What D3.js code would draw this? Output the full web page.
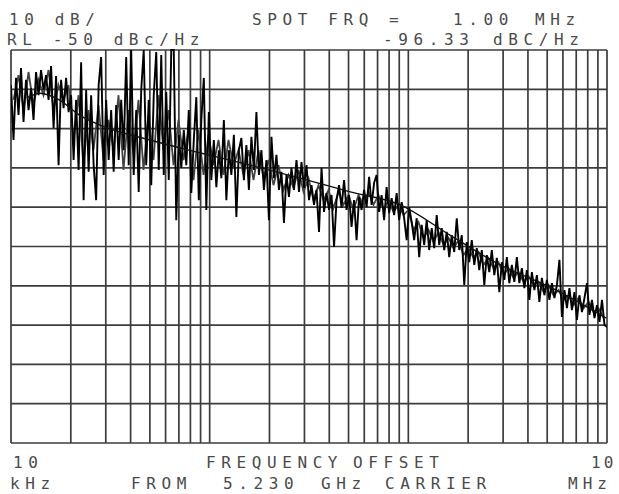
<!DOCTYPE html>
<html>
<head>
<meta charset="utf-8">
<script src="https://cdn.jsdelivr.net/npm/d3@7"></script>
<style>
  body { margin: 0; background: #fff; }
  svg { display: block; }
  .lbl { font-family: "DejaVu Sans Mono", monospace; font-size: 16px; fill: #4a4a4a; letter-spacing: 5.6px; }
</style>
</head>
<body>
<div id="chart"></div>
<script>
// phase noise trace, dBc/Hz, swept log from 10 kHz to 10 MHz
var traceDb = [
  -58.9, -72.9, -57.1, -66.5, -54.6, -68.3, -57.6, -65.3, -59.7, -67.8,
  -55.6, -61.5, -55.1, -60.2, -56.4, -62.7, -54.1, -69.9, -56.6, -79.3,
  -57.6, -64.8, -57.1, -65.8, -61.5, -78.0, -62.7, -80.5, -53.1, -88.2,
  -60.2, -81.0, -61.5, -79.3, -88.2, -58.9, -51.8, -81.8, -62.7, -78.0,
  -65.3, -81.0, -64.0, -78.0, -62.7, -75.5, -51.8, -79.3, -50.0, -81.8,
  -65.3, -86.1, -60.2, -50.0, -79.3, -62.7, -84.4, -61.5, -50.5, -80.5,
  -51.3, -81.8, -60.7, -83.1, -50.0, -50.0, -93.3, -71.6, -80.0, -70.4,
  -79.3, -65.3, -86.4, -72.9, -62.0, -88.2, -67.8, -57.1, -90.7, -65.8,
  -83.1, -72.9, -84.9, -75.5, -82.6, -67.8, -88.2, -75.5, -81.8, -71.6,
  -92.5, -75.5, -72.4, -83.1, -74.2, -85.6, -72.1, -80.5, -65.8, -81.8,
  -75.5, -85.6, -78.0, -93.3, -72.1, -82.6, -76.7, -85.6, -81.0, -94.0,
  -81.8, -87.4, -80.0, -85.6, -78.0, -86.1, -78.5, -85.1, -79.3, -88.2,
  -84.4, -89.4, -85.6, -96.3, -80.0, -91.2, -86.4, -90.7, -86.9, -100.1,
  -88.2, -84.4, -90.2, -83.1, -90.7, -86.9, -95.0, -88.2, -98.4, -87.4,
  -90.7, -85.6, -90.0, -82.3, -89.4, -83.8, -81.8, -91.2, -86.9, -93.3,
  -84.9, -91.5, -87.7, -92.0, -86.4, -93.3, -88.7, -92.8, -98.4, -90.0,
  -93.8, -98.4, -92.8, -102.7, -94.5, -99.6, -93.3, -100.9, -95.3, -100.4,
  -92.0, -99.6, -95.3, -100.9, -96.3, -102.7, -97.1, -101.4, -92.8, -100.9,
  -97.1, -109.8, -98.9, -104.0, -98.4, -104.7, -100.4, -106.0, -100.9, -109.8,
  -102.2, -106.5, -100.9, -107.3, -102.9, -111.6, -104.0, -108.5, -102.7, -109.3,
  -104.7, -109.0, -102.7, -109.3, -105.5, -110.6, -106.0, -113.6, -106.5, -111.1,
  -107.3, -114.1, -108.0, -112.4, -108.5, -113.6, -109.3, -113.1, -109.8, -103.4,
  -117.9, -111.1, -115.7, -110.6, -116.2, -111.6, -118.7, -112.4, -116.7, -113.1,
  -109.3, -117.4, -113.6, -118.2, -114.9, -119.2, -113.6, -120.0, -120.5
];

// second (grey) sweep, half the points, sitting between the first sweep's samples
var traceDbB = [
  -62.7, -56.4, -65.3, -55.6, -64.0, -57.6, -61.5, -55.1, -65.3, -58.9,
  -62.7, -58.9, -72.9, -61.5, -79.3, -65.3, -75.5, -64.0, -78.0, -67.8,
  -75.5, -61.5, -80.5, -65.3, -76.7, -62.7, -80.5, -66.5, -78.0, -61.5,
  -75.5, -65.3, -79.3, -67.8, -78.0, -70.4, -83.1, -70.4, -81.8, -71.6,
  -79.3, -72.9, -81.8, -72.9, -79.3, -75.5, -81.8, -75.5, -83.1, -75.5,
  -82.6, -78.0, -84.4, -79.3, -85.6, -81.8, -85.1, -80.5, -86.1, -82.6,
  -88.2, -84.4, -88.2, -85.6, -90.2, -86.1, -89.4, -86.9, -90.7, -86.9,
  -89.4, -86.1, -89.4, -86.9, -90.7, -88.2, -91.2, -89.4, -92.0, -90.7,
  -95.8, -93.8, -97.8, -95.8, -98.9, -96.3, -99.6, -97.8, -100.4, -98.4,
  -102.2, -100.4, -102.9, -101.4, -104.7, -102.9, -105.5, -104.0, -107.3, -105.5,
  -108.0, -106.5, -109.0, -107.5, -109.8, -109.0, -111.6, -109.8, -112.4, -111.1,
  -113.6, -112.4, -114.9, -113.1, -115.7, -114.1, -116.7, -115.7, -118.2
];

// smoothed trace
var smoothKHz = [12, 14, 17.5, 22, 28, 50, 90, 160, 285, 510, 910, 1620, 2900, 5150, 9900];
var smoothDb = [-62.2, -61.0, -62.7, -66.5, -69.1, -72.9, -76.2, -79.3, -82.6, -86.1, -89.4, -97.1, -104.7, -110.3, -118.2];

// graticule
var gridKHz = [10, 20, 30, 40, 50, 60, 70, 80, 90,
               100, 200, 300, 400, 500, 600, 700, 800, 900,
               1000, 2000, 3000, 4000, 5000, 6000, 7000, 8000, 9000, 10000];
var gridDb = [-50, -60, -70, -80, -90, -100, -110, -120, -130, -140, -150];

(function() {
    var width = 619, height = 494;
    var plotL = 11, plotR = 607, plotT = 50, plotB = 443;

    var svg = d3.select("#chart")
        .append("svg")
        .attr("width", width)
        .attr("height", height);

    var x = d3.scaleLog().domain([10, 10000]).range([plotL, plotR]);
    var y = d3.scaleLinear().domain([-50, -150]).range([plotT, plotB]);

    // grid
    svg.append("g")
        .selectAll("line")
        .data(gridKHz)
        .enter()
        .append("line")
        .attr("x1", function(d) { return x(d); })
        .attr("x2", function(d) { return x(d); })
        .attr("y1", plotT)
        .attr("y2", plotB)
        .attr("stroke", "#3c3c3c")
        .attr("stroke-width", 1.7);

    svg.append("g")
        .selectAll("line")
        .data(gridDb)
        .enter()
        .append("line")
        .attr("x1", plotL)
        .attr("x2", plotR)
        .attr("y1", function(d) { return y(d); })
        .attr("y2", function(d) { return y(d); })
        .attr("stroke", "#3c3c3c")
        .attr("stroke-width", 1.7);

    svg.append("clipPath")
        .attr("id", "plot")
      .append("rect")
        .attr("x", plotL)
        .attr("y", plotT - 1)
        .attr("width", plotR - plotL)
        .attr("height", plotB - plotT + 2);

    var line = d3.line()
        .x(function(d) { return x(d.f); })
        .y(function(d) { return y(d.db); });

    // sweep B: points offset half a step of the 5 px grid
    var sweepB = traceDbB.map(function(d, i) {
        return { f: 10 * Math.pow(1000, (2.5 + 5 * i) / 596), db: d };
    });

    svg.append("path")
        .datum(sweepB)
        .attr("clip-path", "url(#plot)")
        .attr("d", line)
        .attr("fill", "none")
        .attr("stroke", "#444")
        .attr("stroke-width", 1.8);

    var n = traceDb.length;
    var trace = traceDb.map(function(d, i) {
        return { f: 10 * Math.pow(1000, i / (n - 1)), db: d };
    });

    svg.append("path")
        .datum(trace)
        .attr("clip-path", "url(#plot)")
        .attr("d", line)
        .attr("fill", "none")
        .attr("stroke", "#000")
        .attr("stroke-width", 1.9);

    var smooth = smoothKHz.map(function(f, i) { return { f: f, db: smoothDb[i] }; });

    svg.append("path")
        .datum(smooth)
        .attr("clip-path", "url(#plot)")
        .attr("d", line.curve(d3.curveMonotoneX))
        .attr("fill", "none")
        .attr("stroke", "#111")
        .attr("stroke-width", 1.4);

    // annotation text
    var labels = [
        { t: "10 dB/", x: 9, y: 25 },
        { t: "SPOT FRQ =", x: 252, y: 25 },
        { t: "1.00", x: 453, y: 25 },
        { t: "MHz", x: 535, y: 25 },
        { t: "RL -50 dBc/Hz", x: 7, y: 45 },
        { t: "-96.33", x: 383, y: 45 },
        { t: "dBC/Hz", x: 493, y: 45 },
        { t: "10", x: 13, y: 468 },
        { t: "FREQUENCY", x: 206, y: 468 },
        { t: "OFFSET", x: 353, y: 468 },
        { t: "10", x: 591, y: 468, ls: 3 },
        { t: "kHz", x: 10, y: 489 },
        { t: "FROM", x: 131, y: 489 },
        { t: "5.230", x: 223, y: 489 },
        { t: "GHz", x: 321, y: 489 },
        { t: "CARRIER", x: 385, y: 489 },
        { t: "MHz", x: 568, y: 489, ls: 5 }
    ];

    svg.append("g")
        .selectAll("text")
        .data(labels)
        .enter()
        .append("text")
        .attr("class", "lbl")
        .attr("x", function(d) { return d.x; })
        .attr("y", function(d) { return d.y; })
        .style("letter-spacing", function(d) { return d.ls != null ? d.ls + "px" : null; })
        .text(function(d) { return d.t; });
})();
</script>
</body>
</html>
